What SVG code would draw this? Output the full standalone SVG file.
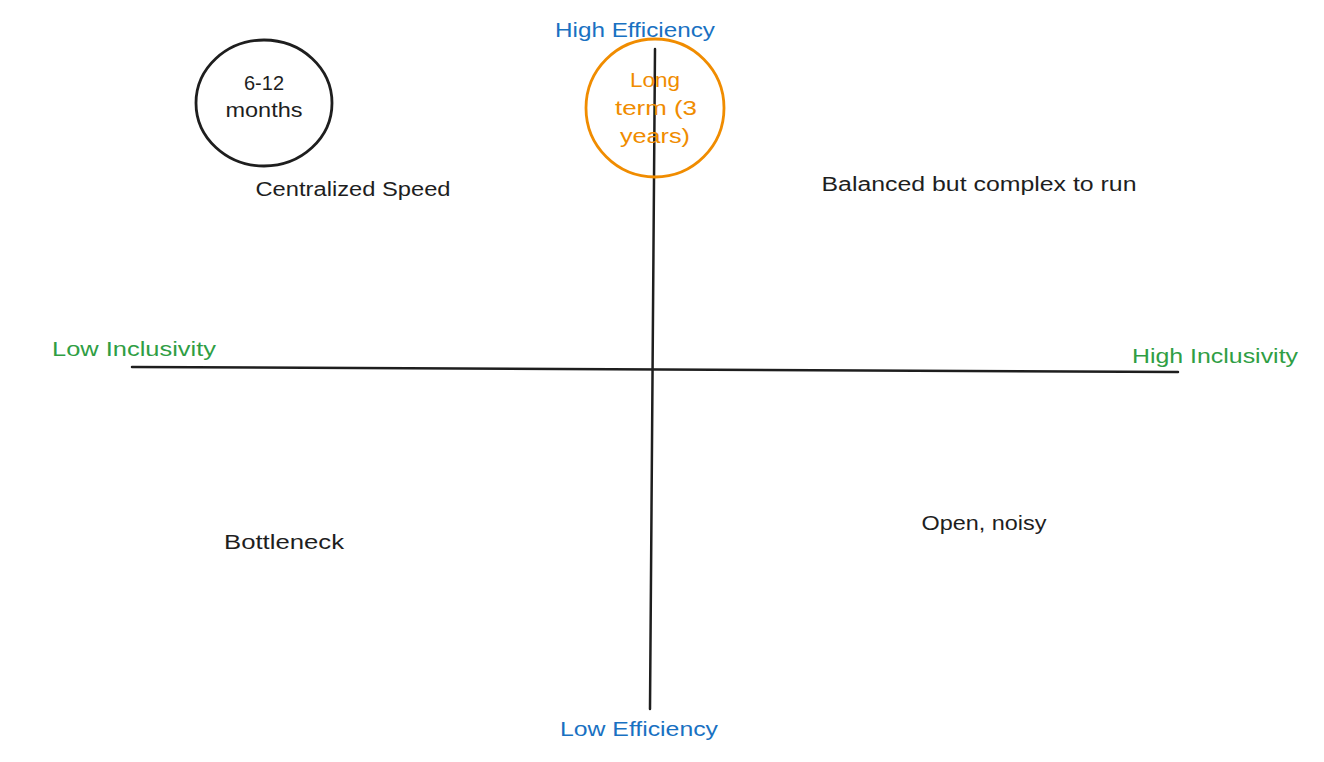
<svg xmlns="http://www.w3.org/2000/svg" width="1324" height="762" viewBox="0 0 1324 762">
<style>
text{font-family:"Liberation Sans","Open Sans",sans-serif;font-size:20px;text-anchor:middle;dominant-baseline:central}
.k{fill:#1e1e1e}
.b{fill:#1971c2}
.g{fill:#2f9e44}
.o{fill:#f08c00}
.ax{stroke:#1e1e1e;stroke-width:2.5;fill:none;stroke-linecap:round}
</style>
<rect width="1324" height="762" fill="#ffffff"/>
<g id="connectors">
<path class="ax" d="M132,367 Q650,369 1178,372"/>
<path class="ax" d="M655,49 Q652,380 650,709"/>
</g>
<g id="circle-short">
<ellipse cx="264" cy="103" rx="68" ry="63" fill="none" stroke="#1e1e1e" stroke-width="2.8"/>
<text class="k" x="264" y="83">6-12</text>
<text class="k" x="264" y="110" textLength="77" lengthAdjust="spacingAndGlyphs">months</text>
</g>
<g id="circle-long">
<ellipse cx="655" cy="108" rx="69" ry="69" fill="none" stroke="#f08c00" stroke-width="2.8"/>
<text class="o" x="655" y="80" textLength="50" lengthAdjust="spacingAndGlyphs">Long</text>
<text class="o" x="656" y="108" textLength="82" lengthAdjust="spacingAndGlyphs">term (3</text>
<text class="o" x="655" y="136" textLength="70" lengthAdjust="spacingAndGlyphs">years)</text>
</g>
<g id="label-high-eff"><text class="b" x="635" y="30" textLength="160" lengthAdjust="spacingAndGlyphs">High Efficiency</text></g>
<g id="label-low-eff"><text class="b" x="639" y="729" textLength="158" lengthAdjust="spacingAndGlyphs">Low Efficiency</text></g>
<g id="label-low-inc"><text class="g" x="134" y="349" textLength="164" lengthAdjust="spacingAndGlyphs">Low Inclusivity</text></g>
<g id="label-high-inc"><text class="g" x="1215" y="356" textLength="166" lengthAdjust="spacingAndGlyphs">High Inclusivity</text></g>
<g id="q-centralized"><text class="k" x="353" y="189" textLength="195" lengthAdjust="spacingAndGlyphs">Centralized Speed</text></g>
<g id="q-balanced"><text class="k" x="979" y="184" textLength="315" lengthAdjust="spacingAndGlyphs">Balanced but complex to run</text></g>
<g id="q-bottleneck"><text class="k" x="284" y="542" textLength="120" lengthAdjust="spacingAndGlyphs">Bottleneck</text></g>
<g id="q-open"><text class="k" x="984" y="523" textLength="125" lengthAdjust="spacingAndGlyphs">Open, noisy</text></g>
</svg>
